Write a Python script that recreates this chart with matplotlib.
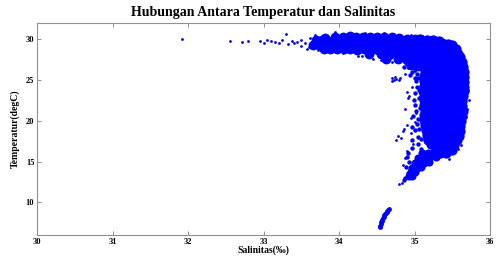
import matplotlib
matplotlib.use("Agg")
import matplotlib.pyplot as plt

plt.rcParams['font.family'] = ['Liberation Serif', 'DejaVu Serif']
plt.rcParams['font.weight'] = 'bold'

# dense upper band (near-surface water)
band_sal = [33.82, 33.95, 34.05, 34.14, 34.23, 34.32, 34.41, 34.50, 34.60, 34.70, 34.80, 34.90, 35.00,
            33.70, 33.78, 33.86, 33.94, 34.03, 34.12, 34.21, 34.30, 34.39, 34.48, 34.57, 34.66, 34.75, 34.84, 34.93, 35.02,
            33.66, 33.74, 33.82, 33.90, 33.99, 34.08, 34.17, 34.26, 34.35, 34.44, 34.53, 34.62, 34.71, 34.80, 34.89, 34.98,
            33.80, 33.88, 33.97, 34.06, 34.15, 34.24, 34.33, 34.42, 34.51, 34.60, 34.69, 34.78, 34.87, 34.96,
            34.40, 34.55, 34.66, 34.75, 34.84, 34.93, 35.02,
            34.62, 34.78, 34.88, 34.97, 35.02,
            34.95, 35.04]
band_temp = [30.20, 30.32, 30.30, 30.36, 30.28, 30.32, 30.25, 30.28, 30.22, 30.22, 30.15, 30.08, 30.02,
             29.85, 29.90, 29.82, 29.88, 29.84, 29.92, 29.80, 29.86, 29.83, 29.88, 29.78, 29.82, 29.76, 29.80, 29.72, 29.70,
             29.35, 29.28, 29.32, 29.25, 29.30, 29.26, 29.34, 29.22, 29.28, 29.20, 29.25, 29.18, 29.22, 29.15, 29.20, 29.10,
             28.85, 28.78, 28.82, 28.75, 28.80, 28.72, 28.78, 28.70, 28.65, 28.72, 28.60, 28.65, 28.55, 28.60,
             28.20, 28.15, 28.10, 28.18, 28.05, 28.12, 28.00,
             27.60, 27.55, 27.65, 27.50, 27.40,
             26.90, 26.70]

# dense vertical core (thermocline)
core_sal = [35.07, 35.16, 35.25, 35.32,
            35.09, 35.18, 35.27, 35.36, 35.44, 35.50,
            35.08, 35.17, 35.26, 35.35, 35.43, 35.51, 35.55,
            35.09, 35.18, 35.27, 35.36, 35.44, 35.52, 35.58,
            35.10, 35.19, 35.28, 35.37, 35.45, 35.53, 35.60,
            35.13, 35.22, 35.31, 35.40, 35.48, 35.57, 35.63,
            35.13, 35.22, 35.31, 35.40, 35.48, 35.57, 35.64,
            35.14, 35.23, 35.32, 35.41, 35.49, 35.58, 35.65,
            35.13, 35.22, 35.31, 35.40, 35.48, 35.57, 35.66,
            35.12, 35.21, 35.30, 35.39, 35.47, 35.56, 35.66,
            35.12, 35.21, 35.30, 35.39, 35.47, 35.55, 35.65,
            35.11, 35.20, 35.29, 35.38, 35.46, 35.54, 35.66,
            35.12, 35.20, 35.28, 35.37, 35.45, 35.53, 35.64,
            35.13, 35.21, 35.28, 35.37, 35.45, 35.53, 35.63,
            35.13, 35.20, 35.27, 35.36, 35.44, 35.52, 35.63,
            35.14, 35.20, 35.27, 35.36, 35.44, 35.52, 35.64,
            35.13, 35.19, 35.26, 35.35, 35.43, 35.51, 35.63,
            35.13, 35.19, 35.26, 35.35, 35.43, 35.51, 35.62,
            35.14, 35.20, 35.27, 35.36, 35.44, 35.52, 35.60,
            35.15, 35.21, 35.28, 35.37, 35.45, 35.53, 35.60,
            35.16, 35.22, 35.30, 35.39, 35.47, 35.55, 35.59,
            35.18, 35.24, 35.32, 35.41, 35.49, 35.56,
            35.22, 35.28, 35.36, 35.44, 35.52,
            35.28, 35.35, 35.43, 35.50,
            35.34, 35.42]
core_temp = [30.00, 29.95, 29.90, 29.80,
             29.55, 29.57, 29.50, 29.53, 29.45, 29.35,
             29.00, 29.02, 28.95, 29.00, 28.92, 28.90, 28.80,
             28.45, 28.47, 28.40, 28.45, 28.43, 28.37, 28.25,
             27.90, 27.92, 27.85, 27.90, 27.88, 27.82, 27.80,
             27.30, 27.28, 27.32, 27.25, 27.30, 27.28, 27.20,
             26.70, 26.72, 26.65, 26.70, 26.68, 26.72, 26.60,
             26.10, 26.12, 26.05, 26.10, 26.08, 26.12, 26.00,
             25.50, 25.52, 25.45, 25.50, 25.48, 25.52, 25.40,
             24.90, 24.92, 24.85, 24.90, 24.88, 24.92, 24.80,
             24.30, 24.32, 24.25, 24.30, 24.28, 24.32, 24.20,
             23.70, 23.72, 23.65, 23.70, 23.68, 23.72, 23.60,
             23.10, 23.12, 23.05, 23.10, 23.08, 23.12, 23.00,
             22.50, 22.52, 22.45, 22.50, 22.48, 22.52, 22.40,
             21.90, 21.92, 21.85, 21.90, 21.88, 21.92, 21.80,
             21.30, 21.32, 21.25, 21.30, 21.28, 21.32, 21.20,
             20.70, 20.72, 20.65, 20.70, 20.68, 20.72, 20.60,
             20.10, 20.12, 20.05, 20.10, 20.08, 20.12, 20.00,
             19.50, 19.52, 19.45, 19.50, 19.48, 19.52, 19.40,
             18.90, 18.92, 18.85, 18.90, 18.88, 18.92, 18.80,
             18.30, 18.32, 18.25, 18.30, 18.28, 18.32, 18.20,
             17.70, 17.72, 17.65, 17.70, 17.68, 17.60,
             17.10, 17.12, 17.05, 17.10, 17.00,
             16.55, 16.57, 16.50, 16.45,
             16.05, 16.00]

# lower tongue
tongue_sal = [35.10, 35.18, 35.25,
              35.05, 35.12, 35.19, 35.28,
              35.01, 35.07, 35.13, 35.19,
              34.97, 35.03, 35.09,
              34.95, 35.00,
              34.93, 34.97]
tongue_temp = [16.00, 16.05, 16.10,
               15.45, 15.45, 15.40, 15.60,
               14.85, 14.85, 14.80, 14.95,
               14.25, 14.25, 14.35,
               13.70, 13.75,
               13.20, 13.25]

# deep water line
deep_sal = [34.54, 34.545, 34.55, 34.56, 34.565, 34.575, 34.58, 34.59, 34.60, 34.61, 34.62, 34.63, 34.64, 34.65, 34.66]
deep_temp = [6.95, 7.15, 7.35, 7.55, 7.75, 7.90, 8.05, 8.20, 8.40, 8.55, 8.70, 8.82, 8.95, 9.05, 9.15]

# medium-density fringe (band-core bend, left of core, upper tongue)
fringe_sal = [34.88, 34.95, 35.00, 35.03, 34.92, 35.00, 35.04, 35.02, 35.03, 35.00,
              35.00, 35.02, 34.98, 35.03, 35.00, 35.04, 34.97, 35.05, 35.08, 34.96,
              34.92, 34.90, 34.93, 34.89, 34.91, 34.87, 35.06, 35.07, 35.05, 35.06,
              34.96, 35.08, 35.06, 35.04, 34.99, 34.94, 34.86,
              34.82, 34.90, 34.97, 35.01, 34.86, 34.94]
fringe_temp = [27.20, 26.80, 26.30, 25.70, 27.90, 27.50, 26.90, 24.90, 24.20, 23.40,
               22.00, 21.20, 20.60, 19.60, 18.90, 18.00, 17.60, 17.10, 16.60, 16.70,
               16.00, 15.60, 15.00, 14.40, 13.60, 13.00, 22.80, 21.60, 20.20, 19.00,
               19.30, 17.80, 23.80, 25.20, 22.60, 14.00, 12.70,
               27.60, 27.00, 26.00, 25.30, 26.60, 25.60]

# scattered observations
sparse_sal = [31.92, 32.55, 32.72, 32.80, 32.95, 33.00, 33.05, 33.10, 33.15, 33.20, 33.25, 33.30, 33.32,
              33.38, 33.40, 33.45, 33.50, 33.50, 33.55, 33.60, 33.62, 33.58, 33.68, 33.72,
              33.90, 34.05, 34.25, 34.30, 34.45, 34.55, 34.70,
              34.70, 34.73, 34.76, 34.79, 34.74, 34.81, 34.70,
              34.90, 34.92, 34.88, 34.95, 34.90, 34.85, 34.78, 34.75, 34.82, 34.98, 34.95, 35.00,
              34.97, 34.87, 35.00, 34.92, 34.93, 34.86, 35.02,
              35.70, 35.71, 35.69, 35.66, 35.62, 35.58, 35.45, 35.72, 35.68,
              34.79, 34.83, 34.88, 34.85, 34.90, 35.30,
              33.95, 34.15, 34.35, 34.60, 34.95, 35.10, 35.20]
sparse_temp = [30.00, 29.80, 29.70, 29.75, 29.80, 29.50, 29.90, 29.80, 29.70, 29.60, 29.90, 30.70, 29.40,
               29.80, 29.50, 29.70, 29.20, 29.90, 29.60, 29.00, 30.20, 28.80, 30.50, 28.70,
               28.40, 28.30, 27.90, 28.00, 27.60, 27.50, 27.20,
               25.20, 24.95, 25.15, 25.00, 25.35, 25.20, 24.90,
               23.50, 22.80, 21.50, 20.30, 19.50, 18.80, 18.20, 17.60, 17.90, 17.20, 18.50, 19.80,
               24.20, 25.80, 26.10, 26.50, 23.00, 19.00, 21.00,
               21.50, 23.80, 25.00, 27.30, 17.00, 16.60, 15.30, 22.50, 20.50,
               12.20, 12.40, 15.40, 14.60, 16.30, 15.30,
               30.85, 30.80, 30.75, 30.75, 30.50, 30.35, 30.30]

fig = plt.figure(figsize=(4.98, 2.58), dpi=100)
ax = fig.add_axes([0.0743, 0.089, 0.9097, 0.822])

ax.scatter(band_sal, band_temp, s=50, c='#0000ff', linewidths=0)
ax.scatter(core_sal, core_temp, s=55, c='#0000ff', linewidths=0)
ax.scatter(tongue_sal, tongue_temp, s=34, c='#0000ff', linewidths=0)
ax.scatter(deep_sal, deep_temp, s=12, c='#0000ff', linewidths=0)
ax.scatter(fringe_sal, fringe_temp, s=10, c='#0000ff', linewidths=0)
ax.scatter(sparse_sal, sparse_temp, s=4, c='#0000ff', linewidths=0)

ax.set_xlim(30, 36)
ax.set_ylim(6, 32)
ax.set_xticks([30, 31, 32, 33, 34, 35, 36])
ax.set_yticks([10, 15, 20, 25, 30])
ax.tick_params(direction='in', top=True, right=True, length=3, width=0.6,
               color='#808080', labelsize=6, pad=2)
for sp in ax.spines.values():
    sp.set_color('#909090')
    sp.set_linewidth(0.8)

ax.set_xlabel('Salinitas(‰)', fontsize=7, fontweight='bold', labelpad=0)
ax.set_ylabel('Temperatur(degC)', fontsize=7, fontweight='bold', labelpad=4)
ax.set_title('Hubungan Antara Temperatur dan Salinitas', fontsize=10, fontweight='bold', pad=5)

fig.savefig('out.png', dpi=100)
